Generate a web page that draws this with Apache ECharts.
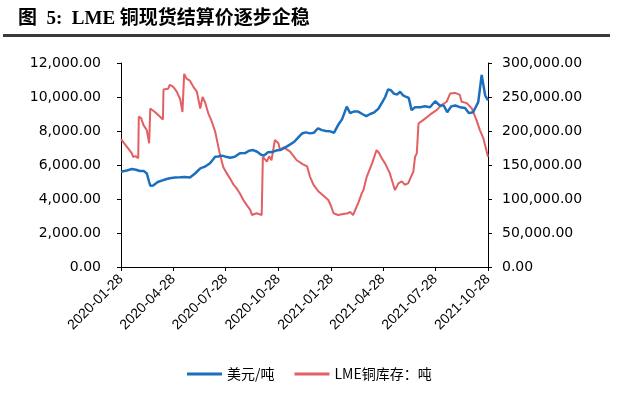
<!DOCTYPE html>
<html>
<head>
<meta charset="utf-8">
<script src="https://cdn.jsdelivr.net/npm/echarts@6/dist/echarts.min.js"></script>
<style>
html,body{margin:0;padding:0;background:#fff;}
#main{width:640px;height:397px;}
</style>
</head>
<body>
<div id="main"></div>
<script>
// x轴刻度标签
var tickLabels = ['2020-01-28','2020-04-28','2020-07-28','2020-10-28',
	'2021-01-28','2021-04-28','2021-07-28','2021-10-28'];

// 美元/吨（左轴）
var usdDates = ['2020-01-28','2020-02-07','2020-02-16','2020-02-23','2020-03-01','2020-03-08','2020-03-13','2020-03-17','2020-03-19','2020-03-24',
	'2020-04-01','2020-04-08','2020-04-15','2020-04-22','2020-05-01','2020-05-10','2020-05-18','2020-05-27','2020-06-05','2020-06-14',
	'2020-06-22','2020-07-01','2020-07-10','2020-07-15','2020-07-22','2020-07-29','2020-08-05','2020-08-13','2020-08-22','2020-08-31',
	'2020-09-07','2020-09-14','2020-09-21','2020-09-28','2020-10-03','2020-10-10','2020-10-17','2020-10-24','2020-10-31','2020-11-09',
	'2020-11-17','2020-11-24','2020-12-01','2020-12-08','2020-12-15','2020-12-22','2020-12-29','2021-01-05','2021-01-12','2021-01-19',
	'2021-01-26','2021-02-02','2021-02-09','2021-02-16','2021-02-24','2021-03-02','2021-03-09','2021-03-16','2021-03-23','2021-03-30',
	'2021-04-06','2021-04-13','2021-04-20','2021-04-27','2021-05-02','2021-05-07','2021-05-12','2021-05-17','2021-05-23','2021-05-28',
	'2021-06-02','2021-06-08','2021-06-12','2021-06-17','2021-06-23','2021-07-02','2021-07-10','2021-07-19','2021-07-28','2021-08-05',
	'2021-08-12','2021-08-18','2021-08-25','2021-09-01','2021-09-09','2021-09-18','2021-09-25','2021-10-02','2021-10-11','2021-10-17',
	'2021-10-23','2021-10-28'];
var usdValues = [5600,5680,5760,5720,5650,5640,5500,5000,4780,4800,
	5000,5080,5160,5220,5260,5280,5300,5260,5500,5800,
	5900,6100,6490,6500,6550,6480,6430,6480,6690,6700,
	6840,6880,6780,6600,6560,6750,6760,6850,6880,7040,
	7200,7350,7600,7850,7920,7860,7900,8160,8050,8000,
	7980,7900,8350,8700,9430,9050,9150,9140,9000,8880,
	9000,9100,9300,9700,10000,10450,10400,10200,10150,10310,
	10100,10000,9950,9230,9400,9400,9450,9400,9750,9500,
	9500,9100,9450,9500,9400,9350,9050,9100,9700,11300,
	10100,9800];

// LME铜库存：吨（右轴）
var stockDates = ['2020-01-28','2020-02-07','2020-02-16','2020-02-18','2020-02-23','2020-02-27','2020-02-28','2020-03-03','2020-03-07','2020-03-13',
	'2020-03-17','2020-03-19','2020-03-27','2020-04-05','2020-04-10','2020-04-11','2020-04-19','2020-04-22','2020-04-28','2020-05-04',
	'2020-05-10','2020-05-14','2020-05-17','2020-05-21','2020-05-27','2020-06-02','2020-06-08','2020-06-14','2020-06-18','2020-06-22',
	'2020-06-28','2020-07-04','2020-07-10','2020-07-13','2020-07-18','2020-07-24','2020-07-30','2020-08-05','2020-08-11','2020-08-16',
	'2020-08-22','2020-08-28','2020-09-03','2020-09-09','2020-09-12','2020-09-20','2020-09-29','2020-10-01','2020-10-08','2020-10-12',
	'2020-10-16','2020-10-22','2020-10-28','2020-10-31','2020-11-06','2020-11-17','2020-11-29','2020-12-10','2020-12-17','2020-12-22',
	'2020-12-28','2021-01-06','2021-01-14','2021-01-23','2021-01-28','2021-02-01','2021-02-09','2021-02-18','2021-02-26','2021-03-02',
	'2021-03-07','2021-03-16','2021-03-22','2021-03-25','2021-03-31','2021-04-09','2021-04-17','2021-04-21','2021-04-26','2021-05-02',
	'2021-05-10','2021-05-16','2021-05-19','2021-05-25','2021-05-31','2021-06-05','2021-06-11','2021-06-16','2021-06-20','2021-06-23',
	'2021-06-26','2021-06-29','2021-07-07','2021-07-19','2021-07-31','2021-08-08','2021-08-17','2021-08-23','2021-09-01','2021-09-09',
	'2021-09-12','2021-09-21','2021-09-30','2021-10-08','2021-10-14','2021-10-20','2021-10-28'];
var stockValues = [188000,177000,167000,162000,163000,160000,221000,219000,209000,201000,
	182000,233000,228000,221000,217000,261000,262000,268000,265000,258000,
	247000,228000,284000,277000,274000,265000,258000,233000,250000,243000,
	226000,214000,199000,187000,167000,147000,138000,130000,121000,116000,
	108000,98500,91000,84000,76500,79000,76500,162000,155000,163000,
	157000,187000,182000,172000,176000,170000,157000,151000,148000,133000,
	121000,111000,105000,98500,89000,79000,76500,78000,79000,81000,
	76500,94000,108000,113000,133000,152000,172000,168000,160000,152000,
	138000,121000,113000,123000,126000,121000,123000,133000,140000,162000,
	167000,211000,216000,224000,231000,238000,243000,255000,256000,253000,
	243000,241000,233000,216000,201000,189000,162000];

var categories = [];
(function(){
	var t = Date.UTC(2020,0,28), end = Date.UTC(2021,9,28);
	for(; t <= end; t += 86400000){
		categories.push(new Date(t).toISOString().slice(0,10));
	}
})();

function pairs(dates, vals){
	var out = [];
	for(var i=0;i<dates.length;i++){ out.push([dates[i], vals[i]]); }
	return out;
}
function fmt(v){
	return v.toLocaleString('en-US',{minimumFractionDigits:2,maximumFractionDigits:2});
}
function isTick(index, value){
	return tickLabels.indexOf(value) >= 0;
}

var numFont = "'DejaVu Sans', sans-serif";
var cjkFont = "'Noto Sans CJK SC', sans-serif";

var chart = echarts.init(document.getElementById('main'));
chart.setOption({
	animation: false,
	backgroundColor: '#fff',
	graphic: [{
		type: 'text', left: 18, top: 10,
		style: {text: '图  5:  LME 铜现货结算价逐步企稳', font: "bold 19px 'Liberation Serif', 'Noto Sans CJK SC'", fill: '#000'}
	},{
		type: 'rect', shape: {x: 3, y: 34, width: 607, height: 3},
		style: {fill: '#3a3a3a'}
	}],
	grid: {left: 121, right: 152, top: 63, bottom: 130},
	legend: {
		data: ['美元/吨','LME铜库存：吨'],
		left: 182, top: 362,
		icon: 'rect', itemWidth: 35, itemHeight: 3, itemGap: 20,
		textStyle: {fontFamily: cjkFont, fontSize: 14, color: '#000'}
	},
	xAxis: {
		type: 'category', data: categories, boundaryGap: false,
		axisLine: {lineStyle: {color: '#000', width: 1}},
		axisTick: {show: true, interval: isTick, length: 4, lineStyle: {color: '#000'}},
		axisLabel: {interval: isTick, rotate: 45, margin: 10, fontFamily: "'Liberation Sans', Arial", fontSize: 14, color: '#000'},
		splitLine: {show: false}
	},
	yAxis: [{
		type: 'value', min: 0, max: 12000, interval: 2000, position: 'left',
		axisLine: {show: true, lineStyle: {color: '#000'}},
		axisTick: {show: true, length: 4, lineStyle: {color: '#000'}},
		axisLabel: {formatter: fmt, margin: 20, fontFamily: numFont, fontSize: 14, color: '#000'},
		splitLine: {show: false}
	},{
		type: 'value', min: 0, max: 300000, interval: 50000, position: 'right',
		axisLine: {show: true, lineStyle: {color: '#000'}},
		axisTick: {show: true, length: 4, lineStyle: {color: '#000'}},
		axisLabel: {formatter: fmt, margin: 14, fontFamily: numFont, fontSize: 14, color: '#000'},
		splitLine: {show: false}
	}],
	series: [{
		name: 'LME铜库存：吨', type: 'line', yAxisIndex: 1,
		data: pairs(stockDates, stockValues),
		symbol: 'none', lineStyle: {color: '#E35F62', width: 2}, itemStyle: {color: '#E35F62'}
	},{
		name: '美元/吨', type: 'line', yAxisIndex: 0,
		data: pairs(usdDates, usdValues),
		symbol: 'none', lineStyle: {color: '#1C6FBF', width: 2.5}, itemStyle: {color: '#1C6FBF'}
	}]
});
</script>
</body>
</html>
